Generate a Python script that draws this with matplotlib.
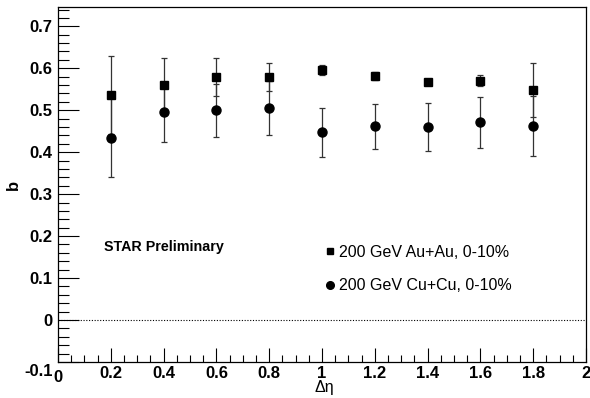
import matplotlib.pyplot as plt
import matplotlib.transforms as mtransforms
from matplotlib.ticker import MultipleLocator
from matplotlib.lines import Line2D

plt.rcParams['font.family'] = ['Liberation Sans', 'DejaVu Sans']

# Delta eta bins
deta = [0.2, 0.4, 0.6, 0.8, 1.0, 1.2, 1.4, 1.6, 1.8]

# 200 GeV Au+Au, 0-10%
b_auau = [0.536, 0.559, 0.579, 0.579, 0.595, 0.582, 0.568, 0.570, 0.548]
err_auau = [0.093, 0.066, 0.045, 0.033, 0.012, 0.010, 0.005, 0.013, 0.065]

# 200 GeV Cu+Cu, 0-10%
b_cucu = [0.434, 0.496, 0.500, 0.506, 0.447, 0.462, 0.461, 0.471, 0.463]
err_cucu = [0.094, 0.071, 0.063, 0.064, 0.058, 0.054, 0.057, 0.060, 0.072]

fig = plt.figure(figsize=(5.9, 3.98), dpi=100)
ax = fig.add_axes([0.0983, 0.0905, 0.8949, 0.8919])

ax.axhline(0, color='black', linestyle=(0, (1, 1.5)), lw=0.8, zorder=1)

ax.errorbar(deta, b_auau, yerr=err_auau, fmt='s', color='black', ms=6,
            ecolor='#333333', elinewidth=0.9, capsize=2, capthick=0.9, zorder=3)
ax.errorbar(deta, b_cucu, yerr=err_cucu, fmt='o', color='black', ms=6.5,
            ecolor='#333333', elinewidth=0.9, capsize=2, capthick=0.9, zorder=3)

ax.set_xlim(0, 2)
ax.set_ylim(-0.1, 0.746)

ax.xaxis.set_major_locator(MultipleLocator(0.2))
ax.xaxis.set_minor_locator(MultipleLocator(0.05))
ax.yaxis.set_major_locator(MultipleLocator(0.1))
ax.yaxis.set_minor_locator(MultipleLocator(0.02))

ax.tick_params(which='both', direction='in', top=False, right=False, width=0.8)
ax.tick_params(axis='y', which='major', length=15, pad=4)
ax.tick_params(axis='y', which='minor', length=8)
ax.tick_params(axis='x', which='major', length=10, pad=3)
ax.tick_params(axis='x', which='minor', length=5)

xticks = [0, 0.2, 0.4, 0.6, 0.8, 1, 1.2, 1.4, 1.6, 1.8, 2]
xlabels = ['0', '0.2', '0.4', '0.6', '0.8', '1', '1.2', '1.4', '1.6', '1.8', '2']
yticks = [-0.1, 0, 0.1, 0.2, 0.3, 0.4, 0.5, 0.6, 0.7]
ylabels = ['-0.1', '0', '0.1', '0.2', '0.3', '0.4', '0.5', '0.6', '0.7']
ax.set_xticks(xticks)
ax.set_xticklabels(xlabels, fontsize=12, fontweight='bold')
ax.set_yticks(yticks)
ax.set_yticklabels(ylabels, fontsize=12, fontweight='bold')

# ROOT pushes the lowest y label and the first x label down a little
shift = mtransforms.ScaledTranslation(0, -8 / 100, fig.dpi_scale_trans)
lowest = ax.get_yticklabels()[0]
lowest.set_transform(lowest.get_transform() + shift)
shift_x = mtransforms.ScaledTranslation(0, -4 / 100, fig.dpi_scale_trans)
first = ax.get_xticklabels()[0]
first.set_transform(first.get_transform() + shift_x)

for s in ax.spines.values():
    s.set_linewidth(0.9)

ax.text(0.504, -0.073, 'Δη', transform=ax.transAxes, fontsize=11.5,
        ha='center', va='center')
ax.text(-0.085, 0.5, 'b', transform=ax.transAxes, fontsize=12,
        fontweight='bold', rotation=90, ha='center', va='center')

ax.text(0.087, 0.324, 'STAR Preliminary', transform=ax.transAxes,
        fontsize=10.3, fontweight='bold', va='center')

handles = [Line2D([], [], marker='s', color='black', ls='none', ms=5),
           Line2D([], [], marker='o', color='black', ls='none', ms=5.5)]
ax.legend(handles, ['200 GeV Au+Au, 0-10%', '200 GeV Cu+Cu, 0-10%'],
          loc='upper left', bbox_to_anchor=(0.488, 0.348), frameon=False,
          fontsize=11.5, handletextpad=0.05, handlelength=1.0, labelspacing=1.15,
          borderaxespad=0)

fig.savefig('out.png', dpi=100)
